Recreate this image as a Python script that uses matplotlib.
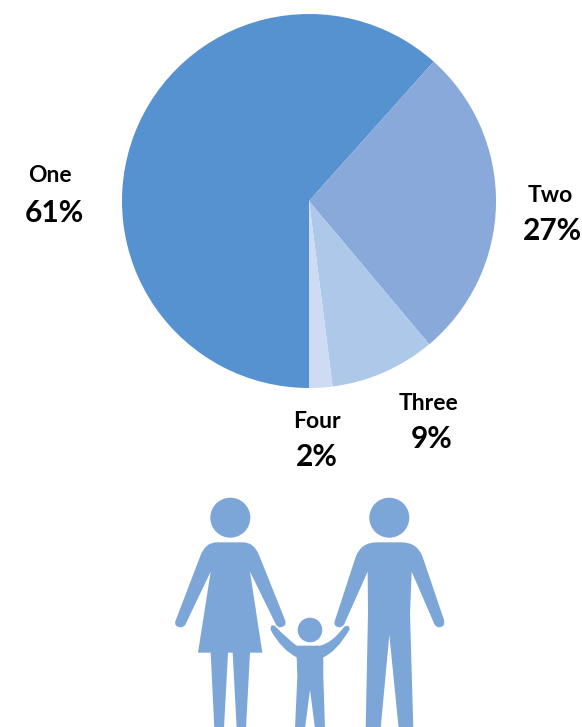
import matplotlib
matplotlib.use('Agg')
import matplotlib.pyplot as plt
from matplotlib.patches import Circle, PathPatch
from matplotlib.path import Path

plt.rcParams['font.family'] = ['Lato', 'DejaVu Sans']

labels = ['One', 'Two', 'Three', 'Four']
values = [61, 27, 9, 2]
colors = ['#5592CF', '#88A9DA', '#AEC8E9', '#CDDCF2']
icon_color = '#7DA6D8'

# centre of each label block in pixels
label_pos = [(50, 175), (550, 196), (428.5, 403), (316.5, 421)]
value_pos = [(54, 213), (552, 231), (432, 439), (317, 457)]

W, H = 582, 727
fig = plt.figure(figsize=(W/100, H/100), dpi=100)

# pie
cx, cy, r = 309, 201, 187
ax = fig.add_axes([(cx-r)/W, 1-(cy+r)/H, 2*r/W, 2*r/H])
ax.pie(values, colors=colors, startangle=-90, counterclock=False, radius=1)
ax.set_xlim(-1, 1)
ax.set_ylim(-1, 1)
ax.axis('off')

# overlay in pixel coordinates for the text and the family icon
ov = fig.add_axes([0, 0, 1, 1])
ov.set_xlim(0, W)
ov.set_ylim(H, 0)
ov.axis('off')
ov.patch.set_alpha(0)

for name, v, lp, vp in zip(labels, values, label_pos, value_pos):
    ov.text(lp[0], lp[1], name, ha='center', va='center', fontsize=16.5, fontweight='bold', color='black')
    ov.text(vp[0], vp[1], f'{v}%', ha='center', va='center', fontsize=21.5, fontweight='bold', color='black')


def shape(points):
    # points are (x, y) or (x, y, cx, cy) for a quadratic curve through a control point
    verts, codes = [], []
    for i, p in enumerate(points):
        if len(p) == 2:
            verts.append(p)
            codes.append(Path.MOVETO if i == 0 else Path.LINETO)
        else:
            verts += [(p[2], p[3]), (p[0], p[1])]
            codes += [Path.CURVE3, Path.CURVE3]
    verts.append(points[0][:2])
    codes.append(Path.CLOSEPOLY)
    verts = [(160 + x/3, 480 + y/3) for x, y in verts]
    return PathPatch(Path(verts, codes), fc=icon_color, ec='none')


woman = [(170, 187), (250, 187), (297, 225, 282, 187), (376, 422), (360, 442, 381, 440),
         (347, 432, 352, 442), (270, 275), (307, 518), (270, 518), (258, 745), (230, 745),
         (218, 518), (204, 518), (192, 745), (163, 745), (152, 518), (114, 518), (152, 275),
         (76, 434), (61, 442, 71, 442), (46, 424, 42, 440), (122, 225), (170, 187, 137, 187)]
man = [(650, 187), (725, 187), (787, 228, 770, 187), (852, 420), (838, 442, 857, 440),
       (823, 432, 828, 442), (755, 275), (750, 400), (760, 745), (716, 745), (688, 465),
       (662, 745), (617, 745), (624, 400), (623, 275), (553, 432), (538, 442, 548, 442),
       (524, 424, 520, 440), (588, 228), (650, 187, 605, 187)]
child = [(420, 497), (480, 497), (553, 440, 515, 490), (569, 448, 568, 432),
         (490, 532, 530, 515), (490, 590), (495, 745), (465, 745), (450, 630),
         (435, 745), (405, 745), (412, 590), (410, 532), (332, 450, 365, 510),
         (345, 438, 330, 430), (410, 497, 380, 475)]

for outline in (woman, man, child):
    ov.add_patch(shape(outline))

for hx, hy, hr in [(230.3, 517.7, 20), (389.3, 517.7, 20), (310, 630, 12.3)]:
    ov.add_patch(Circle((hx, hy), hr, fc=icon_color, ec='none'))

fig.savefig('out.png', dpi=100)
